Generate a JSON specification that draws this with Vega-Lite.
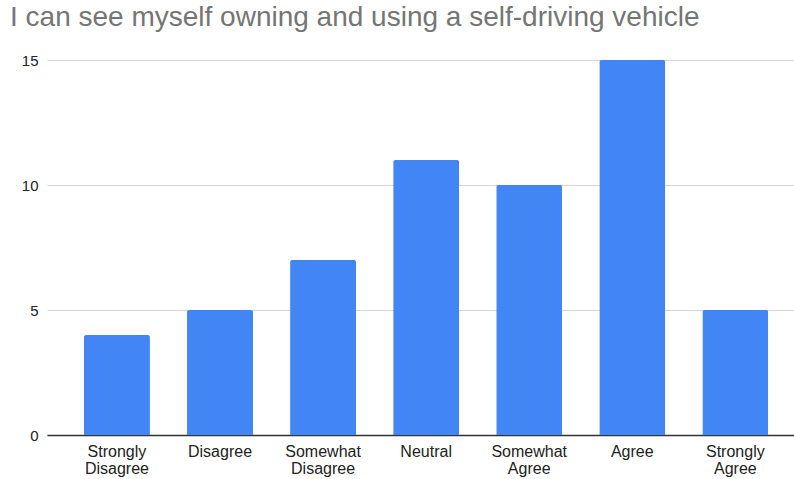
{
  "$schema": "https://vega.github.io/schema/vega-lite/v6.json",
  "autosize": {"type": "none"},
  "width": 747,
  "height": 375,
  "padding": {"left": 47, "top": 60, "right": 0, "bottom": 44},
  "background": "white",
  "config": {
    "font": "Liberation Sans",
    "view": {"stroke": null}
  },
  "title": {
    "text": "I can see myself owning and using a self-driving vehicle",
    "anchor": "start",
    "frame": "group",
    "dx": -37,
    "offset": 21,
    "fontSize": 28,
    "fontWeight": "normal",
    "color": "#757575",
    "font": "Liberation Sans"
  },
  "data": {
    "values": [
      {"response": "Strongly Disagree", "count": 4},
      {"response": "Disagree", "count": 5},
      {"response": "Somewhat Disagree", "count": 7},
      {"response": "Neutral", "count": 11},
      {"response": "Somewhat Agree", "count": 10},
      {"response": "Agree", "count": 15},
      {"response": "Strongly Agree", "count": 5}
    ]
  },
  "mark": {
    "type": "bar",
    "color": "#4285F4",
    "cornerRadiusTopLeft": 2,
    "cornerRadiusTopRight": 2
  },
  "encoding": {
    "x": {
      "field": "response",
      "type": "nominal",
      "sort": null,
      "scale": {"paddingInner": 0.36, "paddingOuter": 0.304, "align": 0.59},
      "axis": {
        "title": null,
        "labelAngle": 0,
        "labelExpr": "split(datum.label, ' ')",
        "labelFontSize": 16,
        "labelColor": "#222222",
        "labelLineHeight": 17,
        "labelPadding": 8,
        "labelBaseline": "top",
        "ticks": false,
        "domainColor": "#333333",
        "domainWidth": 1.5,
        "grid": false
      }
    },
    "y": {
      "field": "count",
      "type": "quantitative",
      "scale": {"domain": [0, 15], "nice": false},
      "axis": {
        "title": null,
        "values": [0, 5, 10, 15],
        "labelFontSize": 15,
        "labelColor": "#222222",
        "labelPadding": 9,
        "ticks": false,
        "domain": false,
        "gridColor": "#d4d4d4",
        "gridWidth": 1
      }
    }
  }
}
